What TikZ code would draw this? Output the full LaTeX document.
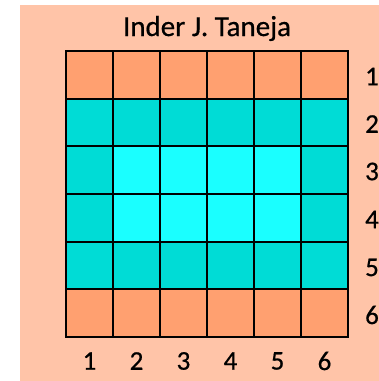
\documentclass[tikz,border=0pt]{standalone}
\usepackage{fontspec}
\setmainfont[FakeBold=0.6]{Carlito}
\definecolor{bgpeach}{RGB}{255,196,168}
\definecolor{cellorange}{RGB}{255,160,112}
\definecolor{celldcyan}{RGB}{0,220,214}
\definecolor{celllcyan}{RGB}{26,255,255}
\begin{document}
\begin{tikzpicture}[x=1pt,y=-1pt,
  thinline/.style={line width=1.3pt,black},
  thickline/.style={line width=2.8pt,black},
  numlabel/.style={font=\fontsize{27}{27}\selectfont,inner sep=0pt,anchor=center},
  titlelabel/.style={font=\fontsize{29}{29}\selectfont,inner sep=0pt,anchor=base}]
\useasboundingbox (0,0) rectangle (379,381);
\fill[bgpeach] (20,5) rectangle (379,381);
% rows
\fill[cellorange] (66,51) rectangle (348,99);
\fill[cellorange] (66,289) rectangle (348,337);
\fill[celldcyan] (66,99) rectangle (348,289);
\fill[celllcyan] (113,146) rectangle (301,242);
% thin grid
\foreach \x in {113,160,207,254,301} \draw[thinline] (\x,51) -- (\x,337);
\foreach \y in {146,194,242} \draw[thinline] (66,\y) -- (348,\y);
% thick borders
\draw[thickline] (66,99) -- (348,99);
\draw[thickline] (66,289) -- (348,289);
\draw[thickline] (113,146) rectangle (301,242);
\draw[thickline] (66,51) rectangle (348,337);
% title
\node[titlelabel] (title) at (207,36) {Inder J. Taneja};
% row labels
\foreach \i/\y in {1/76.5,2/124,3/171.5,4/219.5,5/267.5,6/315}
  \node[numlabel] (r\i) at (372,\y) {\i};
% column labels
\foreach \i/\x in {1/89.5,2/136.5,3/183.5,4/230.5,5/277.5,6/324.5}
  \node[numlabel] (c\i) at (\x,361) {\i};
\end{tikzpicture}
\end{document}
